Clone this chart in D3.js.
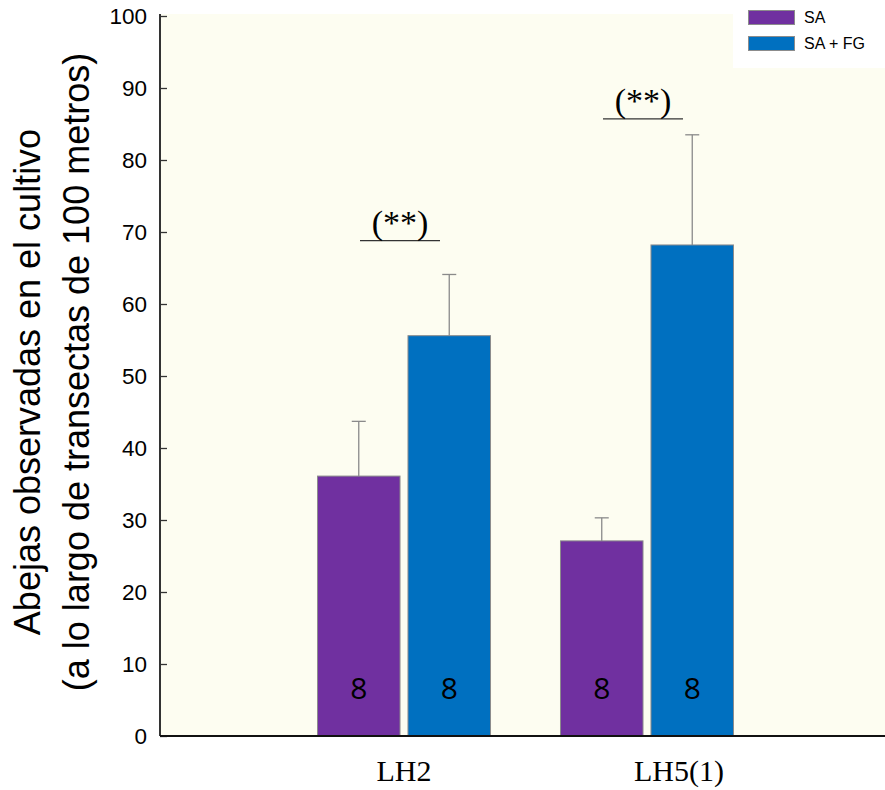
<!DOCTYPE html>
<html>
<head>
<meta charset="utf-8">
<script src="https://cdn.jsdelivr.net/npm/d3@7"></script>
<style>
  html, body { margin: 0; padding: 0; background: #ffffff; }
  svg { display: block; }
</style>
</head>
<body>
<svg id="chart" width="885" height="790"></svg>
<script>
// Sites and treatments
const sites = ["LH2", "LH5(1)"];
const treatments = ["SA", "SA + FG"];
const treatmentColors = ["#7030A0", "#0070C0"];

// Mean bees observed per site, by treatment (SA, SA + FG)
const meansSA = [36.1, 27.1];
const meansSAFG = [55.6, 68.2];
// Upper end of the error bars
const upperSA = [43.7, 30.3];
const upperSAFG = [64.1, 83.5];
// Sample size printed in each bar
const sizesSA = [8, 8];
const sizesSAFG = [8, 8];
// Significance marks per site
const significance = ["(**)", "(**)"];
const signifLevel = [68.8, 85.7];

const yTicks = [0, 10, 20, 30, 40, 50, 60, 70, 80, 90, 100];

const svg = d3.select("#chart");
const W = 885, H = 790;
const margin = { left: 160, right: 0, top: 16, bottom: 54 };
const plotW = W - margin.left - margin.right;
const plotH = H - margin.top - margin.bottom;

const rows = sites.map((s, i) => ({
  site: s,
  values: [
    { t: treatments[0], mean: meansSA[i], upper: upperSA[i], n: sizesSA[i], color: treatmentColors[0] },
    { t: treatments[1], mean: meansSAFG[i], upper: upperSAFG[i], n: sizesSAFG[i], color: treatmentColors[1] }
  ],
  sig: significance[i],
  sigY: signifLevel[i]
}));

const x0 = d3.scaleBand().domain(sites).range([36, 695])
  .paddingInner(0.288).paddingOuter(0.5);
const x1 = d3.scaleBand().domain(treatments).range([0, x0.bandwidth()]).paddingInner(0.088);
const y = d3.scaleLinear().domain([0, 100]).range([plotH, 0]);

const g = svg.append("g").attr("transform", `translate(${margin.left},${margin.top})`);

// plot background
g.append("rect").attr("x", 0).attr("y", -2).attr("width", plotW).attr("height", plotH + 2)
  .attr("fill", "#FDFDF1");

// groups
const groups = g.selectAll("g.site").data(rows).join("g")
  .attr("class", "site")
  .attr("transform", d => `translate(${x0(d.site)},0)`);

// error bars (upper only)
groups.selectAll("g.err").data(d => d.values).join("g").attr("class", "err")
  .each(function(d) {
    const cx = x1(d.t) + x1.bandwidth() / 2;
    const e = d3.select(this);
    e.append("line").attr("x1", cx).attr("x2", cx).attr("y1", y(d.mean)).attr("y2", y(d.upper))
      .attr("stroke", "#8a8a8a").attr("stroke-width", 1.3);
    e.append("line").attr("x1", cx - 7).attr("x2", cx + 7).attr("y1", y(d.upper)).attr("y2", y(d.upper))
      .attr("stroke", "#8a8a8a").attr("stroke-width", 1.3);
  });

// bars
groups.selectAll("rect.bar").data(d => d.values).join("rect").attr("class", "bar")
  .attr("x", d => x1(d.t))
  .attr("y", d => y(d.mean))
  .attr("width", x1.bandwidth())
  .attr("height", d => y(0) - y(d.mean))
  .attr("fill", d => d.color)
  .attr("stroke", "#8c8c8c").attr("stroke-width", 1);

// sample sizes
groups.selectAll("text.n").data(d => d.values).join("text").attr("class", "n")
  .attr("x", d => x1(d.t) + x1.bandwidth() / 2)
  .attr("y", y(0) - 37)
  .attr("text-anchor", "middle")
  .attr("font-family", "'Open Sans', 'DejaVu Sans', sans-serif")
  .attr("font-size", 30)
  .attr("fill", "#000")
  .text(d => d.n);

// significance lines and labels
groups.each(function(d) {
  const gg = d3.select(this);
  const cx = x0.bandwidth() / 2;
  const ly = y(d.sigY);
  gg.append("line").attr("x1", cx - 44).attr("x2", cx + 36).attr("y1", ly).attr("y2", ly)
    .attr("stroke", "#333").attr("stroke-width", 1.3);
  gg.append("text").attr("x", cx - 4).attr("y", ly - 7)
    .attr("text-anchor", "middle")
    .attr("font-family", "'Liberation Serif', 'DejaVu Serif', serif")
    .attr("font-size", 34)
    .attr("fill", "#000")
    .text(d.sig);
});

// y axis
const yAxis = g.append("g").call(
  d3.axisLeft(y).tickValues(yTicks).tickSize(-7).tickPadding(13).tickFormat(d3.format("d"))
);
yAxis.select(".domain").attr("stroke", "#333").attr("stroke-width", 2).attr("d", `M0,${y(100) - 2}V${plotH}`);
yAxis.selectAll(".tick line").attr("stroke", "#333").attr("stroke-width", 1.3);
yAxis.selectAll(".tick text")
  .attr("font-family", "'Liberation Sans', Arial, sans-serif")
  .attr("font-size", 22.5).attr("fill", "#000");

// x axis: baseline runs the full plot width
const xAxis = g.append("g").attr("transform", `translate(0,${plotH})`)
  .call(d3.axisBottom(x0).tickSize(0).tickPadding(24));
xAxis.select(".domain").attr("stroke", "#111").attr("stroke-width", 2).attr("d", `M0,0H${plotW}`);
xAxis.selectAll(".tick text")
  .attr("font-family", "'Liberation Serif', 'DejaVu Serif', serif")
  .attr("font-size", 30).attr("fill", "#000")
  .attr("dx", (d, i) => i === 1 ? 32 : 0);

// y axis title (two lines)
const titleLines = [
  { text: "Abejas observadas en el cultivo", x: 40, cy: 382 },
  { text: "(a lo largo de transectas de 100 metros)", x: 89, cy: 372 }
];
svg.selectAll("text.ytitle").data(titleLines).join("text")
  .attr("class", "ytitle")
  .attr("transform", d => `translate(${d.x},${d.cy}) rotate(-90)`)
  .attr("text-anchor", "middle")
  .attr("font-family", "'Liberation Sans', Arial, sans-serif")
  .attr("font-size", 36)
  .attr("fill", "#000")
  .text(d => d.text);

// legend
const legend = svg.append("g").attr("transform", "translate(733,0)");
legend.append("rect").attr("x", 0).attr("y", 0).attr("width", 152).attr("height", 68).attr("fill", "#ffffff");
treatments.forEach((t, i) => {
  legend.append("rect").attr("x", 15.5).attr("y", 10.5 + i * 26).attr("width", 46).attr("height", 14)
    .attr("fill", treatmentColors[i]).attr("stroke", "#8c8c8c").attr("stroke-width", 1);
  legend.append("text").attr("x", 71).attr("y", 23 + i * 26)
    .attr("font-family", "'Liberation Sans', Arial, sans-serif")
    .attr("font-size", 16).attr("fill", "#000").text(t);
});
</script>
</body>
</html>
